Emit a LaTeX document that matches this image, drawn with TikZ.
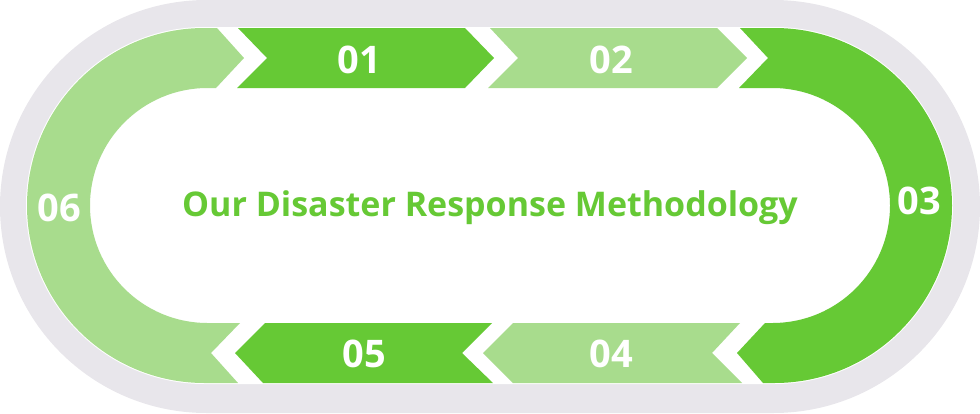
\documentclass[tikz,border=0pt]{standalone}
\usepackage{fontspec}
\setmainfont{Open Sans}
\definecolor{dg}{HTML}{66C935}
\definecolor{lg}{HTML}{A8DC8D}
\definecolor{bg}{HTML}{E8E6EB}
\tikzset{num/.style={text=white,font=\fontsize{38}{38}\selectfont\bfseries}}
\newcommand{\ringpath}{(27,28) [rounded corners=177.5pt] rectangle (952,383) (90,88) [rounded corners=117.5pt] rectangle (890,323)}
\newcommand{\mkseg}[2]{\begin{scope}\clip #2; \fill[#1,even odd rule] \ringpath; \end{scope}}
\begin{document}
\begin{tikzpicture}[x=1pt,y=-1pt]
\useasboundingbox (0,0) rectangle (980,413);
\fill[bg,rounded corners=206.5pt] (0,0) rectangle (980,413);
\fill[white,rounded corners=178.5pt] (26,27) rectangle (953,384);
% 06
\mkseg{lg}{(-10,-10)--(217,-10)--(217,28)--(244,58)--(216,88)--(216,200)--(240,323)--(211,353)--(238,383)--(238,420)--(-10,420)--cycle}
% 01
\mkseg{dg}{(238,-10)--(238,28)--(267,58)--(237,88)--(237,100)--(465,100)--(465,88)--(494,58)--(465,28)--(465,-10)--cycle}
% 02
\mkseg{lg}{(490,-10)--(490,28)--(518,58)--(488,88)--(488,100)--(717,100)--(717,88)--(747,58)--(717,28)--(717,-10)--cycle}
% 03
\mkseg{dg}{(740,-10)--(740,28)--(768,58)--(739,88)--(739,200)--(765,323)--(737,353)--(763,383)--(763,420)--(990,420)--(990,-10)--cycle}
% 04
\mkseg{lg}{(740,310)--(740,323)--(712,353)--(742,383)--(742,420)--(513,420)--(513,383)--(483,353)--(513,323)--(513,310)--cycle}
% 05
\mkseg{dg}{(492,310)--(492,323)--(462,353)--(493,383)--(493,420)--(263,420)--(263,383)--(235,353)--(265,323)--(265,310)--cycle}
\node[num] (n1) at (359,60) {01};
\node[num] (n2) at (611,60) {02};
\node[num] (n3) at (919,201) {03};
\node[num] (n4) at (611,354) {04};
\node[num] (n5) at (364,354) {05};
\node[num] (n6) at (59,208) {06};
\node[text=dg,font=\fontsize{34}{34}\selectfont\bfseries] (t) at (490,208) {Our Disaster Response Methodology};
\end{tikzpicture}
\end{document}
